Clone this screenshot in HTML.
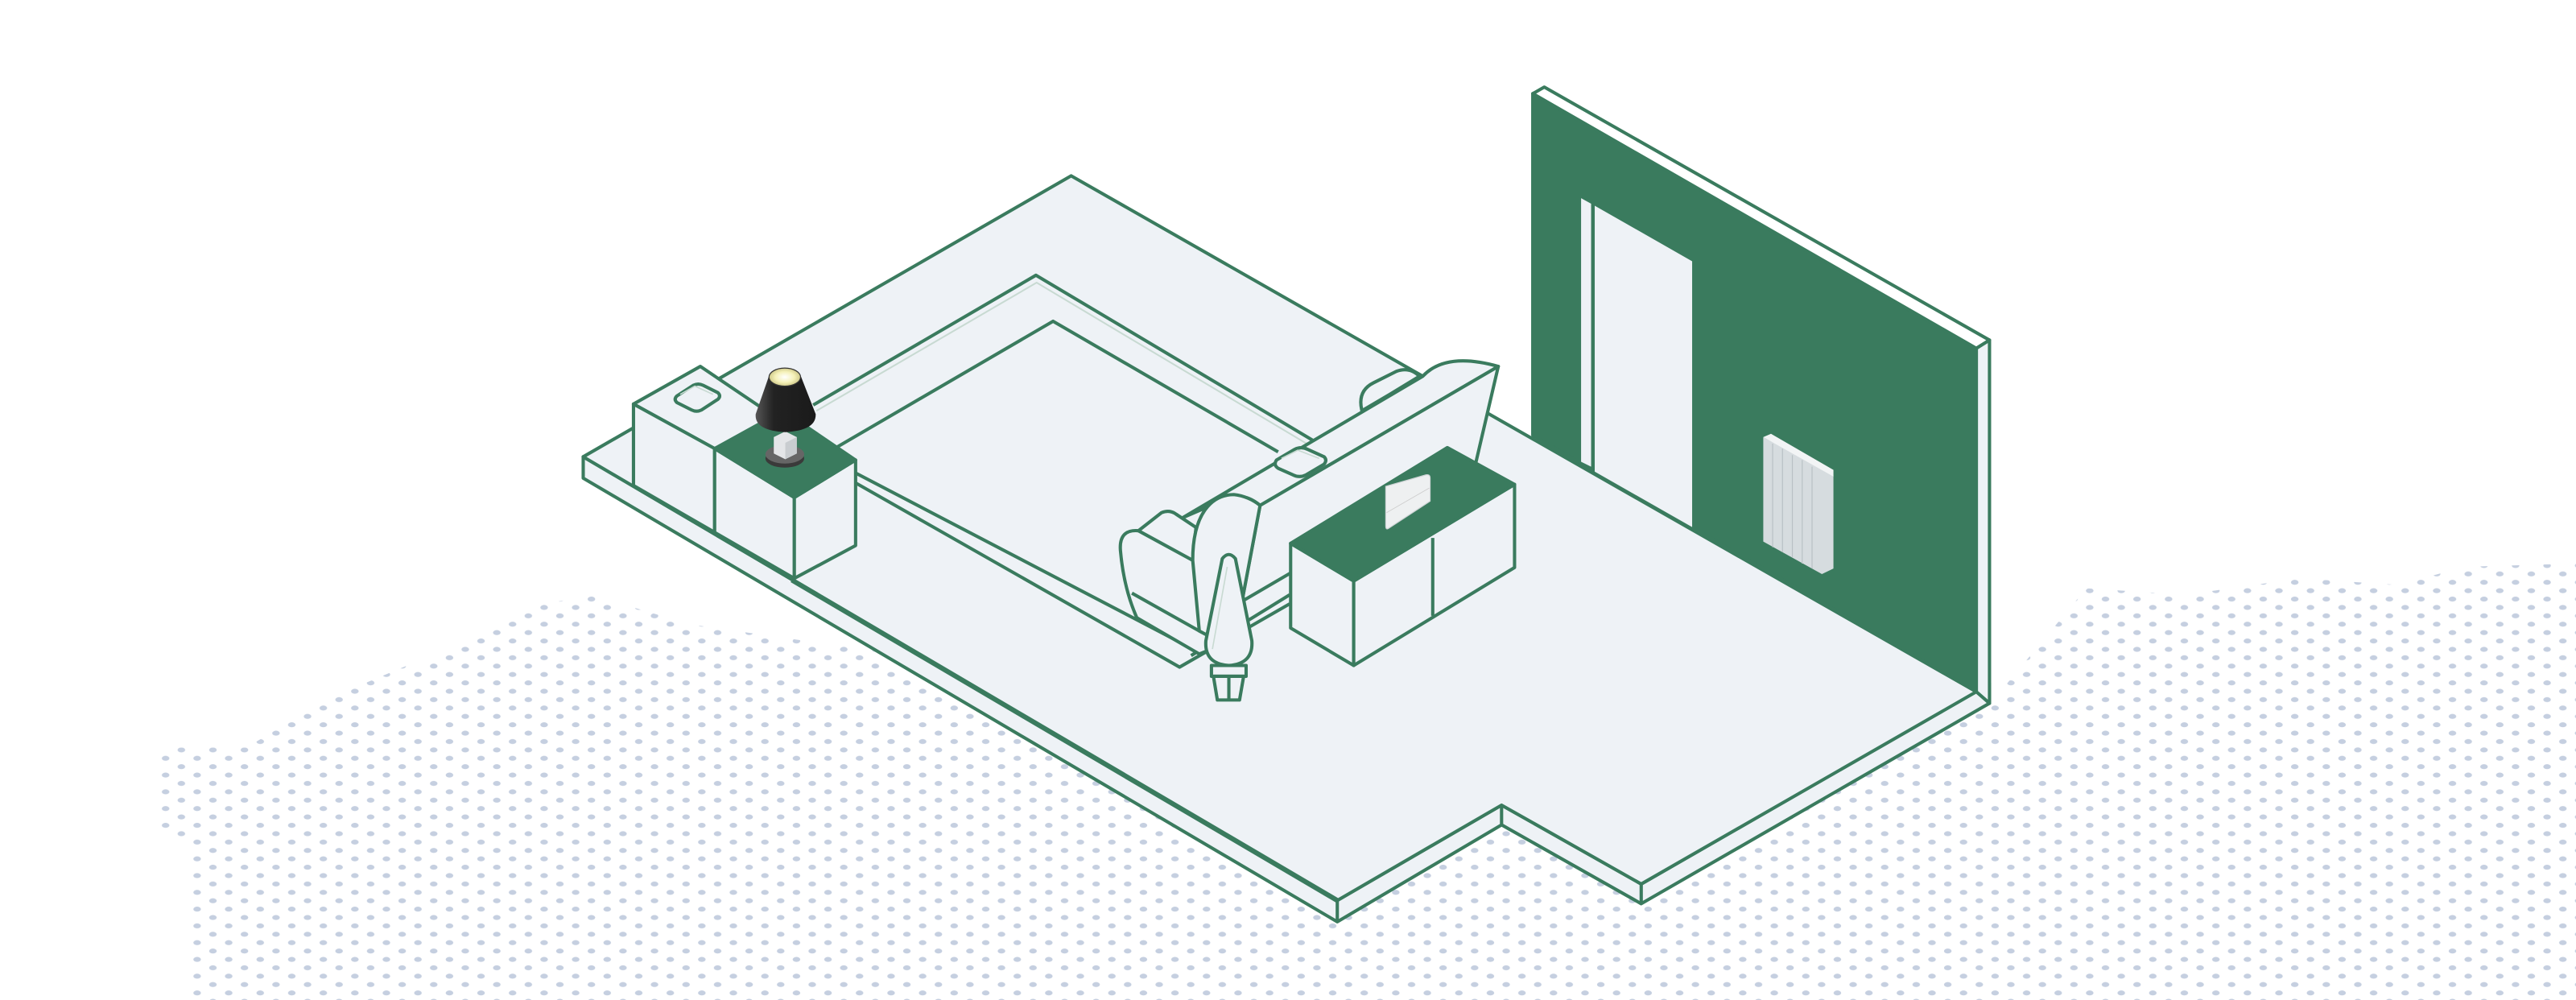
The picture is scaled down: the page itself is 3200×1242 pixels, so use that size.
<!DOCTYPE html>
<html><head><meta charset="utf-8"><style>html,body{margin:0;padding:0;background:#fff}svg{display:block}</style></head><body>
<svg width="3200" height="1242" viewBox="0 0 1568 608.6" preserveAspectRatio="none" xmlns="http://www.w3.org/2000/svg">
<defs>
<pattern id="dots" width="19.2" height="10.2" patternUnits="userSpaceOnUse">
<ellipse cx="4.8" cy="2.5" rx="2.3" ry="1.5" fill="#c5cfe0"/><ellipse cx="14.4" cy="7.6" rx="2.3" ry="1.5" fill="#c5cfe0"/>
</pattern>
<linearGradient id="shade" x1="0" x2="1"><stop offset="0" stop-color="#555"/><stop offset="0.3" stop-color="#222"/><stop offset="1" stop-color="#1a1a1a"/></linearGradient>
<radialGradient id="bulb"><stop offset="0" stop-color="#fff"/><stop offset="0.6" stop-color="#f5f1b8"/><stop offset="1" stop-color="#cfc98a"/></radialGradient>
</defs>
<polygon fill="url(#dots)" points="95,455 150,455 200,425 260,400 320,370 360,362 420,380 700,420 1150,450 1210,430 1270,358 1330,362 1400,352 1460,356 1500,345 1568,343 1568,609 115,609 115,515 95,505"/>
<g stroke="#3a7b5e" stroke-width="2" stroke-linejoin="round" fill="#eef2f6">
<polygon points="355,278 814,548 914,490 999,538 1211,416 1211,428 999,550 914,502 814,561 355,291"/>
<line x1="814" y1="548" x2="814" y2="561"/><line x1="914" y1="490" x2="914" y2="502"/><line x1="999" y1="538" x2="999" y2="550"/>
<polygon points="652,107 1203,421 999,538 914,490 814,548 355,278"/>
<line x1="482" y1="353" x2="814" y2="548" stroke-width="3"/>
<polygon points="933,57 1203,212 1203,421 933,265" fill="#3a7b5e"/>
<polygon points="933,57 940,53 1211,207 1203,212" fill="#fff"/>
<polygon points="1203,212 1211,207 1211,428 1203,421" fill="#eef2f6"/>
<polygon points="962.4,120.6 968.5,124 968.5,284 962.4,281" fill="#eef2f6" stroke="none"/>
<polygon points="970.7,125.2 1030,159 1030,320.8 970.7,287" fill="#eef2f6" stroke="none"/>
<g stroke="none">
<polygon points="1073.3,266 1116,289 1116,346 1109,349.4 1073.3,329.6" fill="#d6dcdf"/>
<polygon points="1073.3,266 1078,264 1116,286 1116,290" fill="#f2f4f5"/>
</g>
<g stroke="#b9c1c5" stroke-width="0.6">
<line x1="1079" y1="270" x2="1079" y2="333"/><line x1="1085" y1="273" x2="1085" y2="336"/><line x1="1091" y1="277" x2="1091" y2="339"/><line x1="1097" y1="280" x2="1097" y2="343"/><line x1="1103" y1="284" x2="1103" y2="346"/>
</g>
<polyline fill="none" points="495,246.5 630.6,167.5 800,268.5"/>
<polyline fill="none" stroke="#c8dad2" stroke-width="1" points="497,250 631,172 797,271"/>
<polyline fill="none" points="509.6,272 641,195.5 778,275"/>
<polyline fill="none" points="521,288 729,396.5"/>
<polyline fill="none" points="521,294 718,406 785,367.5"/>
<line x1="725" y1="399" x2="785" y2="362"/>
<polygon points="385.6,245.9 426.3,223 476.7,257 435,273"/>
<polygon points="385.6,245.9 435,273 435,324 385.6,295.5"/>
<polygon points="435,273 483.5,302.8 483.5,352 435,324"/>
<polygon points="483.5,302.8 520.8,280 520.8,332 483.5,352"/>
<polygon points="435,273 476.7,250 520.8,280 483.5,302.8" fill="#3a7b5e"/>
<path d="M412,241 L422,234.5 Q425,233 428,234.5 L437,239 Q439,241 437,243 L427,249.5 Q424,251 421,249.5 L412,245 Q410,243 412,241Z"/>
<path d="M414,240 L423,235 L434,240" fill="none" stroke="#c8dad2" stroke-width="0.8"/>
</g>
<ellipse cx="477.7" cy="279" rx="11.8" ry="5.6" fill="#3a3a3a"/>
<ellipse cx="477.7" cy="276.5" rx="11.8" ry="5.6" fill="#666"/>
<polygon points="471,266 478,262.5 485,266 485,276 478,279.5 471,276" fill="#e4e6e8"/>
<polygon points="478,269.5 485,266 485,276 478,279.5" fill="#c9cdd0"/>
<path d="M468,229 L460,252 Q459,262 478,263 Q497,262 496.5,252 L487.5,229 Z" fill="url(#shade)"/>
<ellipse cx="477.7" cy="229.5" rx="9.6" ry="5.5" fill="url(#bulb)" stroke="#333" stroke-width="0.6"/>
<g stroke="#3a7b5e" stroke-width="2" stroke-linejoin="round" fill="#eef2f6">
<path d="M829,250 Q826,238 836,233 L850,226 Q858,223 864,229 L846,240 Z"/>
<path d="M720,315 L866,229 Q880,214 912,223 L767,307.6 Q758,300 748,303 Z"/>
<path d="M767,307.6 L912,223 L898,283 L756,366 Z"/>
<path d="M693,323 Q681,322 682,335 Q684,358 692,376 L730,398 L745,392 L726,341 Z"/>
<line x1="689" y1="361" x2="730" y2="384"/>
<path d="M693,323 L707,312 Q712,310 716,313 L728,321 L726,341 Z"/>
<path d="M726,341 C726,312 738,301 751,301 Q760,302 767,307.6 L756,366 L745,392 L730,384 Z"/>
<path d="M777,280 L788,273.5 Q792,271.5 796,273.5 L806,278 Q808,280 806,282.5 L795,289 Q791,291 787,289 L778,285 Q775,283 777,280Z"/>
<path d="M780,279 L790,274 L803,279" fill="none" stroke="#c8dad2" stroke-width="0.8"/>
<path d="M744,340 Q748,335 752,340 L762,390 Q763,404 748,405 Q733,404 734,390 Z"/>
<path d="M747,345 L738,395" fill="none" stroke="#c8dad2" stroke-width="0.8"/>
<path d="M737.4,405 L758.5,405 L758.5,411.6 L737.4,411.6 Z"/>
<path d="M738.6,411.6 L757,411.6 L754.5,426 L741,426 Z"/>
<line x1="748" y1="412" x2="748" y2="426"/>
<polygon points="785.6,330.7 824,353.6 824,405 785.6,382.2"/>
<polygon points="824,353.6 921.9,294.8 921.9,345.4 824,405"/>
<line x1="872.1" y1="327.4" x2="872.1" y2="374.8"/>
<polygon points="785.6,330.7 881,272.4 921.9,294.8 824,353.6" fill="#3a7b5e"/>
</g>
<path d="M843.5,296 L868,289 Q870.5,288.5 870.5,291 L870.5,305 L845,321.7 Q843.5,322.5 843.5,320 Z" fill="#eef0f1" stroke="#cfd4d6" stroke-width="0.6"/>
<line x1="844" y1="312" x2="870" y2="297" stroke="#ccc" stroke-width="0.4"/>
</svg>
</body></html>
